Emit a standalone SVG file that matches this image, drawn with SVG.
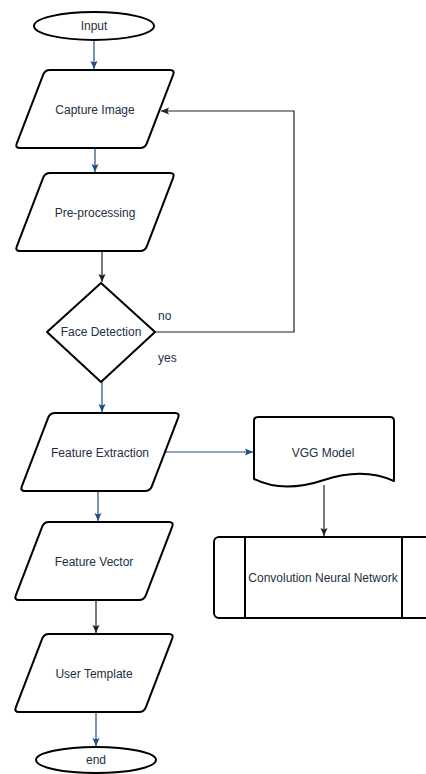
<svg xmlns="http://www.w3.org/2000/svg" width="426" height="774" viewBox="0 0 426 774">
<style>
.shape{fill:#ffffff;stroke:#000000;stroke-width:2;stroke-linejoin:round}
.lbl{font-family:"Liberation Sans",Arial,sans-serif;font-size:12px;fill:#23303f;text-anchor:middle}
.edge{font-family:"Liberation Sans",Arial,sans-serif;font-size:12px;fill:#23303f}
.cb{fill:none;stroke:#1f4e80;stroke-width:1.2}
.ck{fill:none;stroke:#222222;stroke-width:1.2}
</style>
<defs>
<path id="para" d="M35,0 H155 Q160,0 158.2,4.7 L131.8,73.3 Q130,78 125,78 H5 Q0,78 1.8,73.3 L28.2,4.7 Q30,0 35,0 Z"/>
<marker id="ab" markerUnits="userSpaceOnUse" markerWidth="10" markerHeight="10" viewBox="0 0 10 10" refX="9" refY="5" orient="auto">
<path d="M1,1.5 L9,5 L1,8.5 L2.5,5 Z" fill="#1f4e80"/>
</marker>
<marker id="ak" markerUnits="userSpaceOnUse" markerWidth="10" markerHeight="10" viewBox="0 0 10 10" refX="9" refY="5" orient="auto">
<path d="M1,1.5 L9,5 L1,8.5 L2.5,5 Z" fill="#222222"/>
</marker>
</defs>
<g id="connectors">
<path class="cb" d="M94,40 V69" marker-end="url(#ab)"/>
<path class="cb" d="M95,148 V172" marker-end="url(#ab)"/>
<path class="ck" d="M102,251 V282" marker-end="url(#ak)"/>
<path class="ck" d="M155,332 H294 V111 H161" marker-end="url(#ak)"/>
<path class="cb" d="M102,382 V412" marker-end="url(#ab)"/>
<path class="cb" d="M165,452 H253" marker-end="url(#ab)"/>
<path class="cb" d="M98,491 V521" marker-end="url(#ab)"/>
<path class="ck" d="M324,485 V536" marker-end="url(#ak)"/>
<path class="ck" d="M96,600 V633" marker-end="url(#ak)"/>
<path class="cb" d="M96,712 V746" marker-end="url(#ab)"/>
<text class="edge" x="158" y="320">no</text>
<text class="edge" x="158" y="362">yes</text>
</g>
<g id="input">
<ellipse class="shape" cx="94" cy="26" rx="60" ry="14"/>
<text class="lbl" x="94" y="30">Input</text>
</g>
<g id="capture">
<use href="#para" class="shape" transform="translate(15,70)"/>
<text class="lbl" x="95" y="114">Capture Image</text>
</g>
<g id="preprocessing">
<use href="#para" class="shape" transform="translate(15,173)"/>
<text class="lbl" x="95" y="217">Pre-processing</text>
</g>
<g id="face-detection">
<polygon class="shape" points="101,283 155,332 101,382 47,332"/>
<text class="lbl" x="101" y="336">Face Detection</text>
</g>
<g id="feature-extraction">
<use href="#para" class="shape" transform="translate(20,413)"/>
<text class="lbl" x="100" y="457">Feature Extraction</text>
</g>
<g id="vgg">
<path class="shape" d="M254,479 V421 Q254,417 258,417 H390 Q394,417 394,421 V481 C372,471 348,472 324,480 C300,488 276,490 254,479 Z"/>
<text class="lbl" x="323" y="457">VGG Model</text>
</g>
<g id="cnn">
<rect class="shape" x="214" y="537" width="230" height="81" rx="5"/>
<line x1="245" y1="537" x2="245" y2="618" stroke="#000" stroke-width="2"/>
<line x1="402" y1="537" x2="402" y2="618" stroke="#000" stroke-width="2"/>
<text class="lbl" x="323" y="582">Convolution Neural Network</text>
</g>
<g id="feature-vector">
<use href="#para" class="shape" transform="translate(14,522)"/>
<text class="lbl" x="94" y="566">Feature Vector</text>
</g>
<g id="user-template">
<use href="#para" class="shape" transform="translate(14,634)"/>
<text class="lbl" x="94" y="678">User Template</text>
</g>
<g id="end">
<ellipse class="shape" cx="96" cy="760" rx="60" ry="13"/>
<text class="lbl" x="96" y="764">end</text>
</g>
</svg>
